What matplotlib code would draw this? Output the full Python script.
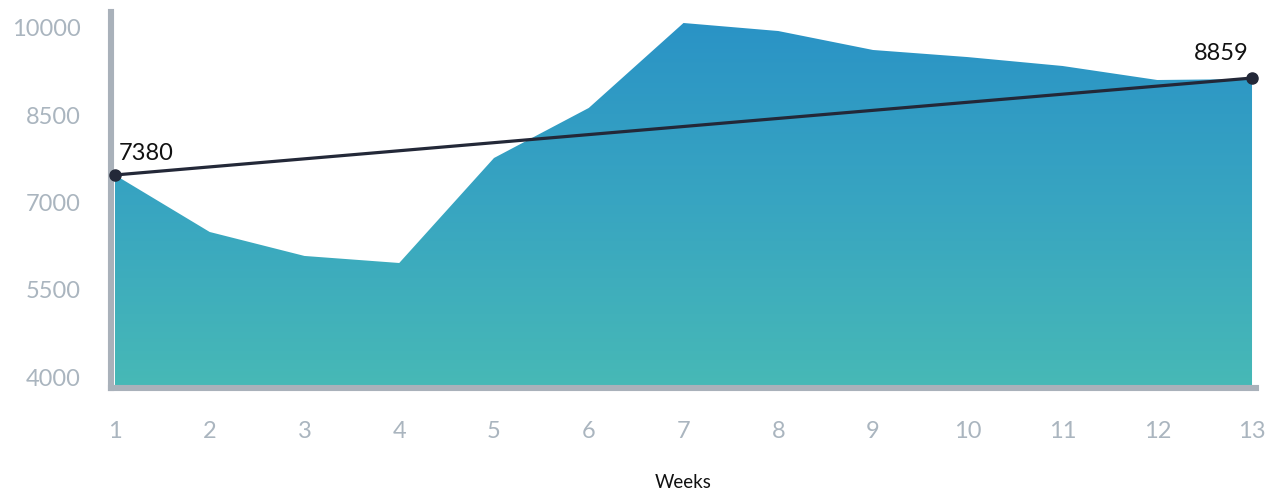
import matplotlib
matplotlib.use("Agg")
import matplotlib.pyplot as plt
import numpy as np
from matplotlib.colors import LinearSegmentedColormap

# data
weeks = [1, 2, 3, 4, 5, 6, 7, 8, 9, 10, 11, 12, 13]
values = [7473, 6493, 6081, 5960, 7765, 8625, 10086, 9948, 9622, 9500, 9347, 9106, 9123]
trend_x = [1, 13]
trend_y = [7473, 9140]
trend_labels = ["7380", "8859"]
y_ticks = [4000, 5500, 7000, 8500, 10000]

plt.rcParams['font.family'] = ['Lato', 'DejaVu Sans']

W, H = 1266, 491
fig = plt.figure(figsize=(W / 100, H / 100), dpi=100)
ax = fig.add_axes([111 / W, 103 / H, (1256 - 111) / W, (388 - 12) / H])

ymin, ymax = 3811, 10275
ax.set_xlim(0.958, 13.042)
ax.set_ylim(ymin, ymax)

# area with vertical gradient
poly = ax.fill_between(weeks, values, ymin, color='none', lw=0)
cmap = LinearSegmentedColormap.from_list('g', ['#47B9B6', '#38A5C1', '#2A93C6'])
grad = np.linspace(0, 1, 256).reshape(-1, 1)
img = ax.imshow(grad, cmap=cmap, origin='lower', aspect='auto',
                extent=[1, 13, ymin, max(values)], zorder=1)
path = poly.get_paths()[0]
img.set_clip_path(path, transform=ax.transData)

# trend line
ax.plot(trend_x, trend_y, color='#232838', lw=2.3, zorder=4,
        marker='o', markersize=8, solid_capstyle='round', clip_on=False)
ax.annotate(trend_labels[0], (trend_x[0], trend_y[0]), xytext=(2.5, 11),
            textcoords='offset points', fontsize=17, color='#111111',
            ha='left', va='baseline', zorder=5)
ax.annotate(trend_labels[1], (trend_x[1], trend_y[1]), xytext=(-2.5, 13),
            textcoords='offset points', fontsize=17, color='#111111',
            ha='right', va='baseline', zorder=5)

for s in ['top', 'right']:
    ax.spines[s].set_visible(False)
for s in ['left', 'bottom']:
    ax.spines[s].set_color('#A9B1BA')
    ax.spines[s].set_linewidth(4.4)
    ax.spines[s].set_zorder(3)

ax.set_xticks(weeks)
ax.set_xticklabels([str(w) for w in weeks])
ax.set_yticks(y_ticks)
ax.set_yticklabels([str(t) for t in y_ticks])
ax.tick_params(axis='both', length=0, labelsize=17, labelcolor='#AAB5BF')
ax.tick_params(axis='y', pad=22)
ax.tick_params(axis='x', pad=24)

fig.text(683 / W, 1 - 482 / H, 'Weeks', ha='center', va='center',
         fontsize=13.5, color='#111111')

fig.savefig('out.png', dpi=100)
